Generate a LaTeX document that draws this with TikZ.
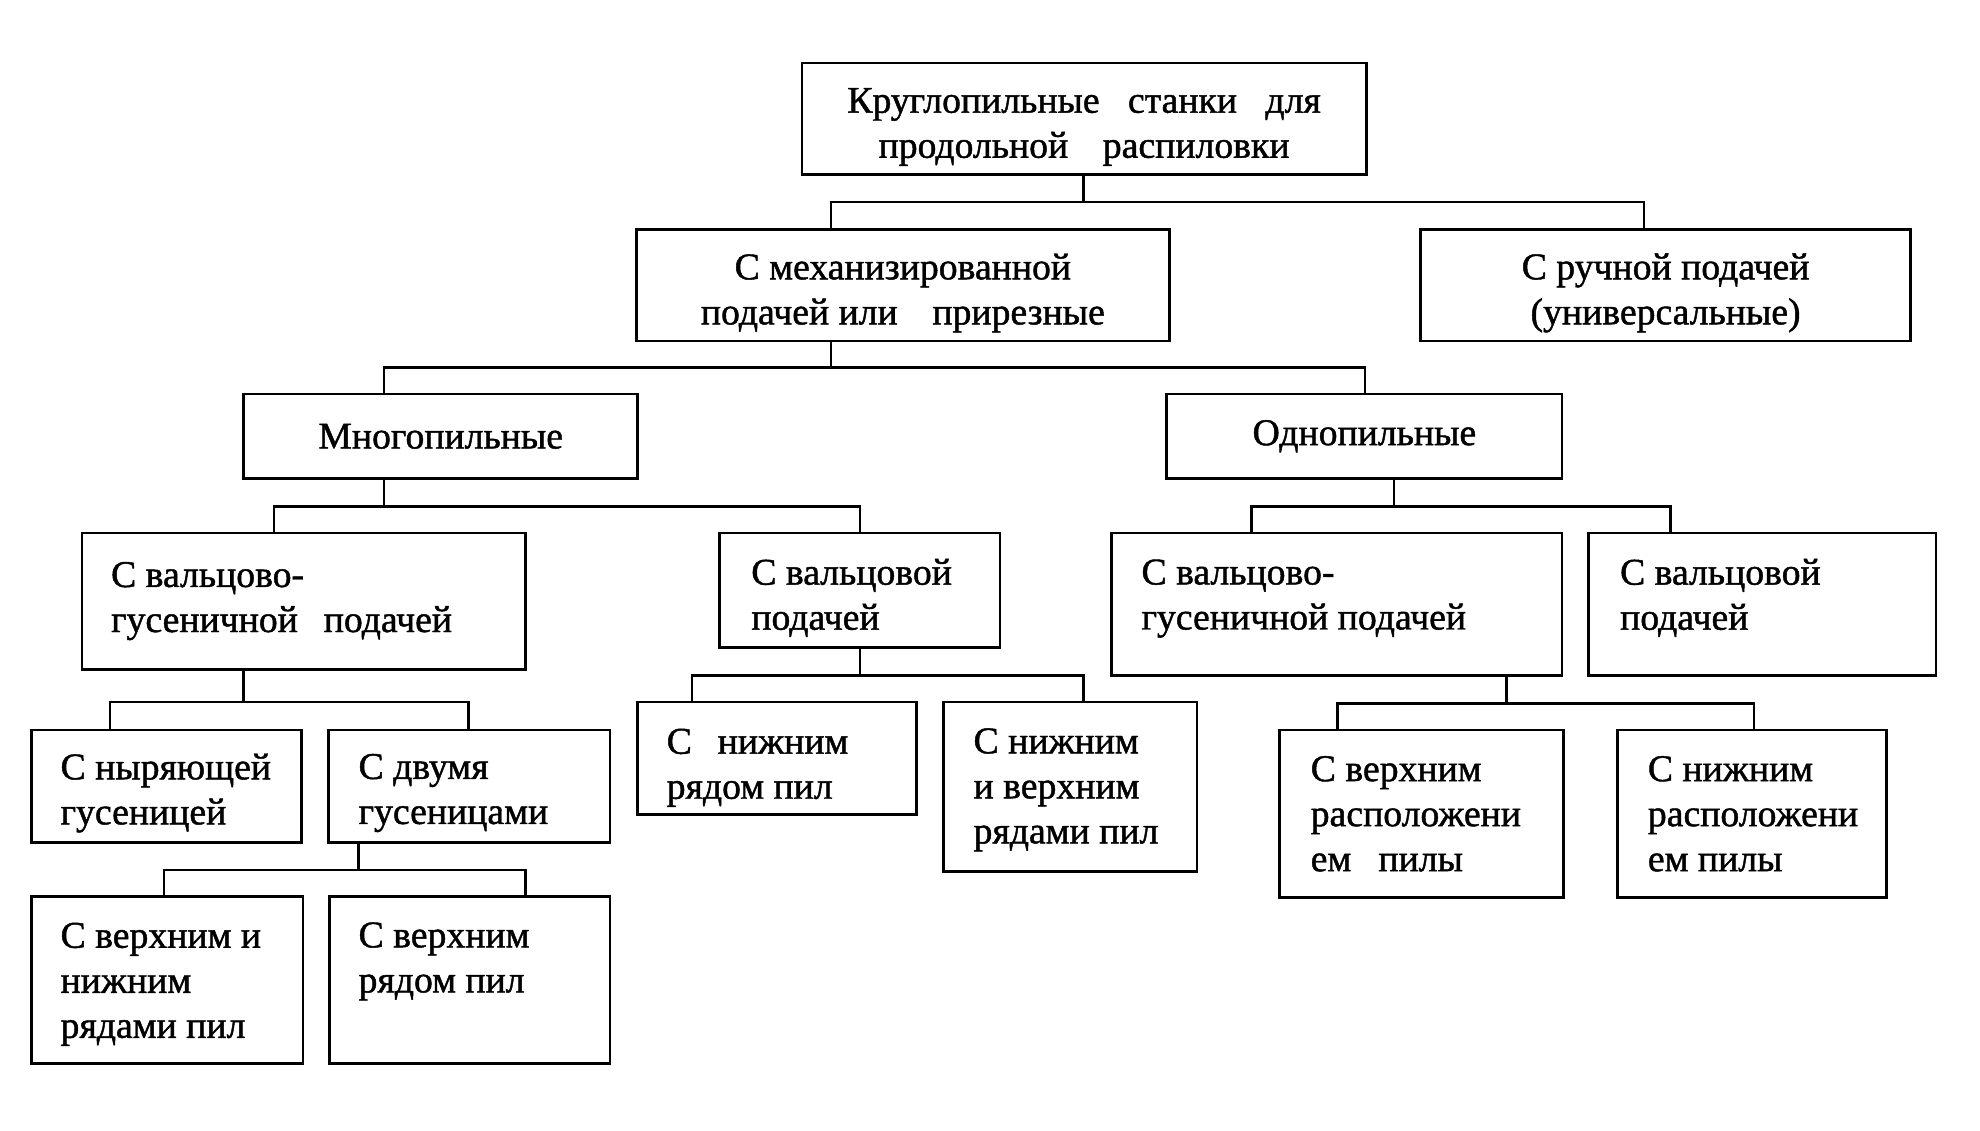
\documentclass[tikz,border=0pt]{standalone}
\usepackage{fontspec}
\setmainfont[FakeBold=1.2]{Liberation Serif}
\tikzset{
  box/.style={draw, line width=1.2pt, inner xsep=0pt, inner ysep=2pt, font=\fontsize{17}{20.3}\selectfont},
  conn/.style={line width=1.2pt, line join=miter}
}
% name, x1, y1, x2, y2, left pad, text
\newcommand\mkbox[7]{%
  \pgfmathsetmacro\bxw{(#4-#2)*0.02}%
  \pgfmathsetmacro\bxh{(#5-#3)*0.02}%
  \pgfmathsetmacro\bxp{#6*0.02}%
  \node[box,minimum width=\bxw cm,minimum height=\bxh cm] (#1) at ({(#2+#4)/2},{(#3+#5)/2}) {\parbox{\bxw cm}{\raggedright\leftskip=\bxp cm\relax #7}};}
\newcommand\mkcbox[7]{%
  \pgfmathsetmacro\bxw{(#4-#2)*0.02}%
  \pgfmathsetmacro\bxh{(#5-#3)*0.02}%
  \node[box,minimum width=\bxw cm,minimum height=\bxh cm] (#1) at ({(#2+#4)/2},{(#3+#5)/2}) {\parbox{\bxw cm}{\centering #7#6}};}
\newcommand\topsp[1]{\vspace*{#1}\par}
\newcommand\botsp[1]{\par\vspace*{#1}}
\newcommand\gap[1]{\ \hspace{#1}}
\newcommand\mkconn[8]{%
  \coordinate (#1s) at (#3,#4);
  \coordinate (#1l) at (#5,#4);
  \coordinate (#1r) at (#6,#4);
  \draw[conn] (#2.south -| #1s) -- (#1s);
  \draw[conn] (#7.north -| #1l) -- (#1l) -- (#1r) -- (#8.north -| #1r);}
\begin{document}
\begin{tikzpicture}[x=0.02cm,y=-0.02cm]
\useasboundingbox (0,0) rectangle (1568,895);
\mkcbox{top}{635}{50}{1082}{138}{Круглопильные\gap{0.3cm}станки\gap{0.3cm}для\\продольной\gap{0.4cm}распиловки}{\topsp{0.26cm}}
\mkcbox{mech}{504}{182}{926}{270}{С механизированной\\подачей или\gap{0.4cm}прирезные}{\topsp{0.24cm}}
\mkcbox{manual}{1125}{182}{1513}{270}{С ручной подачей\\(универсальные)}{\topsp{0.24cm}}
\mkcbox{mnogo}{193}{312}{505}{379}{Многопильные}{}
\mkcbox{odno}{924}{312}{1237}{379}{Однопильные}{}
\mkbox{a}{65}{422}{416}{530}{23}{С вальцово-\\гусеничной\gap{0.26cm}подачей}
\mkbox{b}{570}{422}{792}{513}{25}{\topsp{0.24cm}С вальцовой\\подачей}
\mkbox{c}{880}{422}{1237}{535}{24}{С вальцово-\\гусеничной подачей\botsp{0.18cm}}
\mkbox{d}{1258}{422}{1533}{535}{25}{С вальцовой\\подачей\botsp{0.2cm}}
\mkbox{e}{25}{578}{239}{667}{23}{\topsp{0.22cm}С ныряющей\\гусеницей}
\mkbox{f}{260}{578}{483}{667}{24}{\topsp{0.22cm}С двумя\\гусеницами}
\mkbox{g}{505}{556}{726}{645}{23}{\topsp{0.3cm}С\gap{0.26cm}нижним\\рядом пил}
\mkbox{h}{747}{556}{948}{690}{24}{\topsp{0.1cm}С нижним\\и верхним\\рядами пил}
\mkbox{i}{1013}{578}{1238}{711}{25}{С верхним\\расположени\\ем\gap{0.28cm}пилы}
\mkbox{j}{1281}{578}{1494}{711}{24}{С нижним\\расположени\\ем пилы}
\mkbox{k}{25}{710}{240}{842}{23}{\topsp{0.14cm}С верхним и\\нижним\\рядами пил}
\mkbox{l}{261}{710}{483}{842}{23}{С верхним\\рядом пил\\\mbox{}}
\mkconn{g0}{top}{858}{160}{658}{1302}{mech}{manual}
\mkconn{g1}{mech}{658}{291}{304}{1081}{mnogo}{odno}
\mkconn{g2}{mnogo}{304}{401}{217}{681}{a}{b}
\mkconn{g3}{odno}{1104}{401}{991}{1323}{c}{d}
\mkconn{g4}{a}{193}{556}{87}{371}{e}{f}
\mkconn{g5}{b}{681}{535}{548}{858}{g}{h}
\mkconn{g6}{c}{1193}{557}{1059}{1389}{i}{j}
\mkconn{g7}{f}{284}{689}{130}{416}{k}{l}
\end{tikzpicture}
\end{document}
